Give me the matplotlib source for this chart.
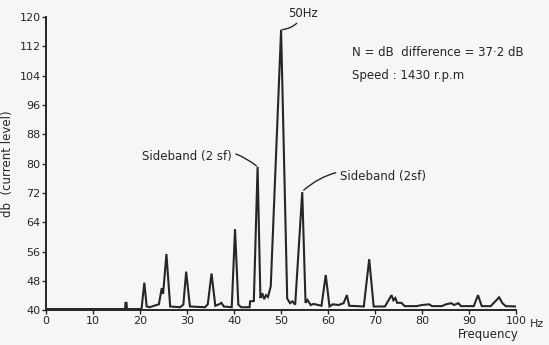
import numpy as np
import matplotlib
matplotlib.use('Agg')
import matplotlib.pyplot as plt

# current spectrum trace, frequency (Hz) against level (dB)
freq = [0, 16.8, 16.9, 17.1, 17.2, 20.3, 20.9, 21.4, 22.0, 24.0, 24.6, 24.9, 25.6, 26.4,
        28.5, 29.2, 29.8, 30.6, 33.8, 34.4, 35.2, 36.0, 36.8, 37.3, 37.8, 39.5, 40.2,
        40.9, 41.5, 43.3, 43.4, 44.2, 45.0, 45.6, 46.0, 46.4, 46.8, 47.2, 47.8, 50.0,
        51.3, 51.9, 52.4, 53.0, 54.5, 55.2, 55.6, 56.3, 56.9, 58.6, 59.5, 60.3, 61.0,
        62.2, 63.3, 64.0, 64.5, 67.6, 68.75, 69.7, 72.1, 73.5, 73.9, 74.3, 74.7, 75.6,
        76.3, 78.8, 80.0, 81.5, 82.1, 84.2, 85.1, 86.2, 86.8, 87.7, 88.3, 91.0, 91.9,
        92.7, 94.6, 96.4, 97.1, 97.8, 100]
level = [40.3, 40.3, 42.0, 42.0, 40.3, 40.3, 47.5, 41.0, 40.8, 41.6, 46.0, 44.5, 55.3, 41.0,
         40.8, 41.5, 50.5, 41.0, 40.8, 41.6, 50.0, 41.2, 41.6, 42.0, 41.0, 40.8, 62.1,
         41.5, 40.8, 40.8, 42.4, 42.5, 79.1, 43.3, 44.6, 43.0, 44.1, 43.6, 46.5, 116.5,
         43.2, 41.9, 42.4, 41.5, 72.2, 42.0, 42.8, 41.4, 41.7, 41.2, 49.6, 41.0, 41.6,
         41.4, 41.9, 44.1, 41.2, 41.0, 53.9, 41.0, 41.0, 44.1, 42.7, 43.3, 42.0, 42.0,
         41.1, 41.1, 41.4, 41.6, 41.1, 41.1, 41.6, 41.9, 41.4, 41.9, 41.1, 41.1, 44.1,
         41.1, 41.1, 43.5, 41.9, 41.1, 41.0]

xticks = [0, 10, 20, 30, 40, 50, 60, 70, 80, 90, 100]
yticks = [40, 48, 56, 64, 72, 80, 88, 96, 104, 112, 120]

ink = '#262626'
plt.rcParams['font.family'] = ['DejaVu Sans']

fig = plt.figure(figsize=(5.49, 3.45), dpi=100, facecolor='#f6f6f6')
ax = fig.add_axes([0.084, 0.101, 0.856, 0.85])
ax.set_facecolor('#f6f6f6')

ax.plot(freq, level, color=ink, linewidth=1.5, solid_joinstyle='miter')

ax.set_xlim(0, 100)
ax.set_ylim(40, 120)
ax.set_xticks(xticks)
ax.set_yticks(yticks)
ax.tick_params(colors=ink, labelcolor=ink, labelsize=8, length=3, width=1, pad=1)
ax.spines['right'].set_color('none')
ax.spines['top'].set_color('none')
for s in ['left', 'bottom']:
    ax.spines[s].set_color(ink)
    ax.spines[s].set_linewidth(1.4)

ax.text(103.0, 36.3, 'Hz', fontsize=8, color=ink, va='center')
ax.text(100.5, 33.4, 'Frequency', fontsize=8.5, color=ink, ha='right', va='center')
ax.set_ylabel('db  (current level)', fontsize=8.5, color=ink, labelpad=4)

# peak labels with curved leaders
ax.annotate('50Hz', xy=(50, 116.5), xytext=(51.5, 120.8), fontsize=8.5, color=ink,
            va='center', annotation_clip=False,
            arrowprops=dict(arrowstyle='-', color=ink, lw=1, shrinkA=0, shrinkB=1,
                            connectionstyle='arc3,rad=-0.3'))
ax.annotate('Sideband (2 sf)', xy=(45, 79.1), xytext=(39.5, 82.0), fontsize=8.5, color=ink,
            ha='right', va='center',
            arrowprops=dict(arrowstyle='-', color=ink, lw=1, shrinkA=1, shrinkB=1,
                            connectionstyle='arc3,rad=-0.3'))
ax.annotate('Sideband (2sf)', xy=(54.6, 72.5), xytext=(62.5, 76.5), fontsize=8.5, color=ink,
            ha='left', va='center',
            arrowprops=dict(arrowstyle='-', color=ink, lw=1, shrinkA=1, shrinkB=1,
                            connectionstyle='arc3,rad=0.3'))

ax.text(65, 110.3, 'N = dB  difference = 37·2 dB', fontsize=8.5, color=ink, va='center')
ax.text(65, 104.0, 'Speed : 1430 r.p.m', fontsize=8.5, color=ink, va='center')

fig.savefig('out.png', dpi=100, facecolor=fig.get_facecolor())
